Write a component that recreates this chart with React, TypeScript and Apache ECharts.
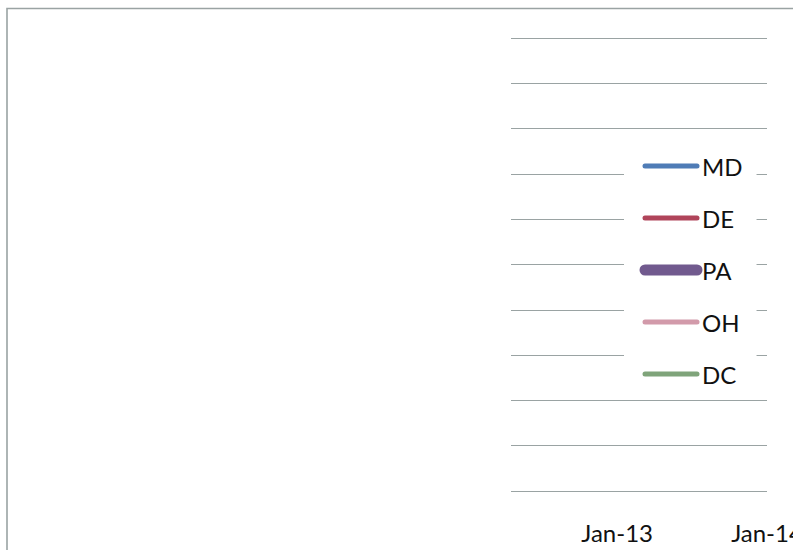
import React, { useEffect, useRef } from "react";
import * as echarts from "echarts";

// Month index: 0 = Jan-12, 12 = Jan-13, 24 = Jan-14
const xTickValues = [12, 24];
const xTickLabels = ["Jan-13", "Jan-14"];
const xMin = 3.5;
const xMax = 24;

const seriesNames = ["MD", "DE", "PA", "OH", "DC"];
const seriesColors = ["#4f7cb6", "#b0445a", "#715a8e", "#d29aaa", "#7fa47a"];
const seriesWidths = [5, 5, 11, 5, 5];

// No data points are visible in the plotted window of the reference.
const mdValues: [number, number][] = [];
const deValues: [number, number][] = [];
const paValues: [number, number][] = [];
const ohValues: [number, number][] = [];
const dcValues: [number, number][] = [];
const seriesValues = [mdValues, deValues, paValues, ohValues, dcValues];

const yMin = 0;
const yMax = 10;
const yInterval = 1;

export default function App() {
  const ref = useRef<HTMLDivElement>(null);
  useEffect(() => {
    if (!ref.current) return;
    const chart = echarts.init(ref.current, undefined, { renderer: "svg" });
    const gridColor = "#9aa3a3";
    chart.setOption({
      animation: false,
      backgroundColor: "#ffffff",
      grid: {
        left: 511,
        right: 26,
        top: 38,
        bottom: 59,
        containLabel: false,
        outerBoundsMode: "none",
      },
      xAxis: {
        type: "value",
        min: xMin,
        max: xMax,
        axisLine: { show: false },
        axisTick: { show: false },
        splitLine: { show: false },
        axisLabel: {
          customValues: xTickValues,
          formatter: (v: number) => {
            const i = xTickValues.indexOf(v);
            return i >= 0 ? xTickLabels[i] : "";
          },
          margin: 29,
          fontFamily: "Lato",
          fontSize: 24,
          color: "#111",
          showMaxLabel: true,
          hideOverlap: false,
        },
      },
      yAxis: {
        type: "value",
        min: yMin,
        max: yMax,
        interval: yInterval,
        axisLine: { show: false },
        axisTick: { show: false },
        axisLabel: { show: false },
        splitLine: { show: true, lineStyle: { color: gridColor, width: 1.2 } },
      },
      legend: {
        orient: "vertical",
        left: 624,
        top: 140,
        padding: [14, 14, 10, 15.5],
        backgroundColor: "#ffffff",
        itemWidth: 52,
        itemHeight: 24,
        itemGap: 28,
        itemStyle: { opacity: 0 },
        lineStyle: { width: "inherit", cap: "round" },
        textStyle: { fontFamily: "Lato", fontSize: 24, color: "#111" },
        data: seriesNames.map((n, i) => ({
          name: n,
          lineStyle: { width: seriesWidths[i], color: seriesColors[i], cap: "round" },
        })),
      },
      graphic: [
        {
          type: "polyline",
          silent: true,
          shape: { points: [[7, 550], [7, 8.5], [793, 8.5]] },
          style: { stroke: gridColor, lineWidth: 1.6, fill: "none" },
        },
      ],
      series: seriesNames.map((n, i) => ({
        name: n,
        type: "line",
        symbol: "none",
        data: seriesValues[i],
        itemStyle: { color: seriesColors[i] },
        lineStyle: { color: seriesColors[i], width: seriesWidths[i], cap: "round" },
      })),
    });
    return () => chart.dispose();
  }, []);
  return (
    <div
      ref={ref}
      style={{ position: "fixed", left: 0, top: 0, width: 793, height: 550 }}
    />
  );
}
